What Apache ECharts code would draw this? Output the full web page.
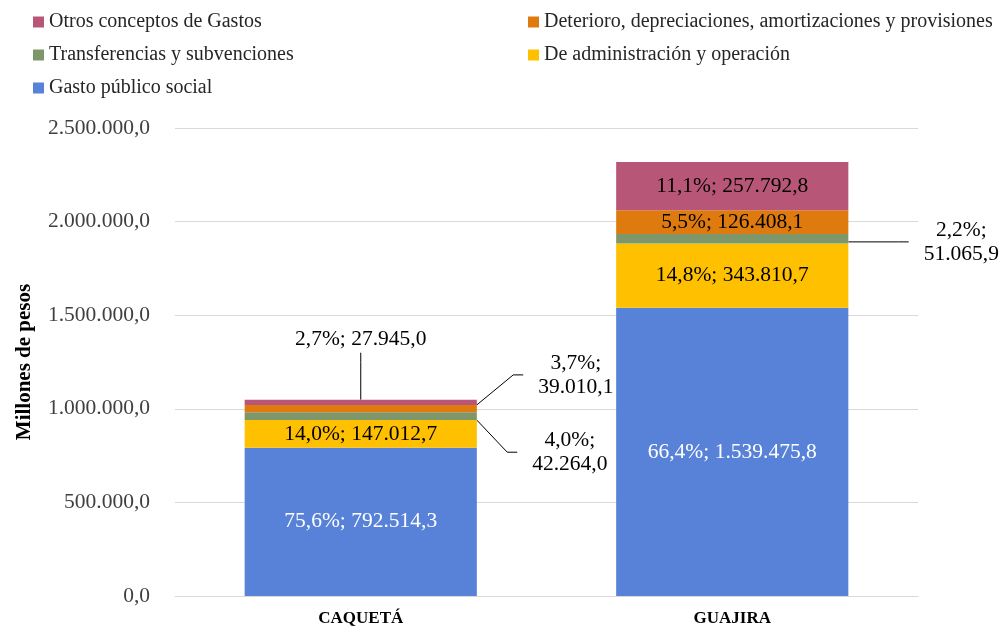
<!DOCTYPE html>
<html>
<head>
<meta charset="utf-8">
<script src="https://cdn.jsdelivr.net/npm/echarts@6/dist/echarts.min.js"></script>
<style>
  html, body { margin: 0; padding: 0; background: #fff; }
  #chart { width: 1003px; height: 632px; }
</style>
</head>
<body>
<div id="chart"></div>
<script>
const categories = ['CAQUETÁ', 'GUAJIRA'];
const gastoSocial = [792514.3, 1539475.8];
const administracion = [147012.7, 343810.7];
const transferencias = [42264.0, 51065.9];
const deterioro = [39010.1, 126408.1];
const otros = [27945.0, 257792.8];

const FONT = '"Liberation Serif", "Times New Roman", serif';

const totals = categories.map((c, i) =>
  gastoSocial[i] + administracion[i] + transferencias[i] + deterioro[i] + otros[i]);

function fmt(v) {
  const parts = v.toFixed(1).split('.');
  return parts[0].replace(/\B(?=(\d{3})+(?!\d))/g, '.') + ',' + parts[1];
}
function pct(v, i) {
  return (v / totals[i] * 100).toFixed(1).replace('.', ',') + '%';
}

// labels that sit outside the bar with a leader line
const outside = {
  'Transferencias y subvenciones': [0, 1],
  'Deterioro, depreciaciones, amortizaciones y provisiones': [0],
  'Otros conceptos de Gastos': [0]
};

function makeData(name, values) {
  const out = outside[name] || [];
  return values.map((v, i) => {
    if (out.indexOf(i) < 0) return v;
    const twoLines = name !== 'Otros conceptos de Gastos';
    return {
      value: v,
      label: {
        formatter: pct(v, i) + (twoLines ? ';\n' : '; ') + fmt(v),
        color: '#000',
        lineHeight: 24,
        padding: twoLines ? [0, 15] : [0, 0, 2, 0]
      },
      labelLine: { show: true, length2: 10, lineStyle: { color: '#000', width: 1 } }
    };
  });
}

function makeSeries(name, values, color, textColor, layout) {
  return {
    name: name,
    type: 'bar',
    stack: 'total',
    barWidth: '62.5%',
    itemStyle: { color: color },
    label: {
      show: true,
      position: 'inside',
      color: textColor,
      fontFamily: FONT,
      fontSize: 21.5,
      formatter: p => pct(p.value, p.dataIndex) + '; ' + fmt(p.value)
    },
    labelLayout: layout,
    emphasis: { disabled: true },
    data: makeData(name, values)
  };
}

const chart = echarts.init(document.getElementById('chart'));

const legendBase = {
  orient: 'vertical',
  top: 12,
  padding: 0,
  icon: 'rect',
  itemWidth: 11,
  itemHeight: 11,
  itemGap: 13,
  selectedMode: false,
  textStyle: { fontFamily: FONT, fontSize: 20, lineHeight: 20, color: '#262626' }
};

const option = {
  animation: false,
  backgroundColor: '#fff',
  legend: [
    Object.assign({}, legendBase, {
      left: 33,
      data: ['Otros conceptos de Gastos', 'Transferencias y subvenciones', 'Gasto público social']
    }),
    Object.assign({}, legendBase, {
      left: 528,
      data: ['Deterioro, depreciaciones, amortizaciones y provisiones', 'De administración y operación']
    })
  ],
  grid: { left: 175, right: 85, top: 128, bottom: 36 },
  xAxis: {
    type: 'category',
    data: categories,
    axisTick: { show: false },
    axisLine: { lineStyle: { color: '#d9d9d9', width: 1 } },
    axisLabel: { fontFamily: FONT, fontSize: 17, fontWeight: 'bold', color: '#000', margin: 14 }
  },
  yAxis: {
    type: 'value',
    min: 0,
    max: 2500000,
    interval: 500000,
    name: 'Millones de pesos',
    nameLocation: 'middle',
    nameGap: 140,
    nameTextStyle: { fontFamily: FONT, fontSize: 21, fontWeight: 'bold', color: '#000' },
    axisLine: { show: false },
    axisTick: { show: false },
    splitLine: { lineStyle: { color: '#d9d9d9', width: 1 } },
    axisLabel: { fontFamily: FONT, fontSize: 21.5, color: '#404040', margin: 25, formatter: v => fmt(v) }
  },
  series: [
    makeSeries('Gasto público social', gastoSocial, '#5882D8', '#fff'),
    makeSeries('De administración y operación', administracion, '#FFC000', '#000'),
    makeSeries('Transferencias y subvenciones', transferencias, '#7E976A', '#000', p => {
      if (p.dataIndex === 0) return { x: p.rect.x + p.rect.width + 93, y: p.rect.y + 40, align: 'center', verticalAlign: 'middle' };
      if (p.dataIndex === 1) return { x: p.rect.x + p.rect.width + 113, y: p.rect.y + 8, align: 'center', verticalAlign: 'middle' };
    }),
    makeSeries('Deterioro, depreciaciones, amortizaciones y provisiones', deterioro, '#DF7B0E', '#000', p => {
      if (p.dataIndex === 0) return { x: p.rect.x + p.rect.width + 99, y: p.rect.y - 30, align: 'center', verticalAlign: 'middle' };
    }),
    makeSeries('Otros conceptos de Gastos', otros, '#B85678', '#000', p => {
      if (p.dataIndex === 0) return { x: p.rect.x + p.rect.width / 2, y: p.rect.y - 60, align: 'center', verticalAlign: 'middle' };
    })
  ]
};

chart.setOption(option);
</script>
</body>
</html>
